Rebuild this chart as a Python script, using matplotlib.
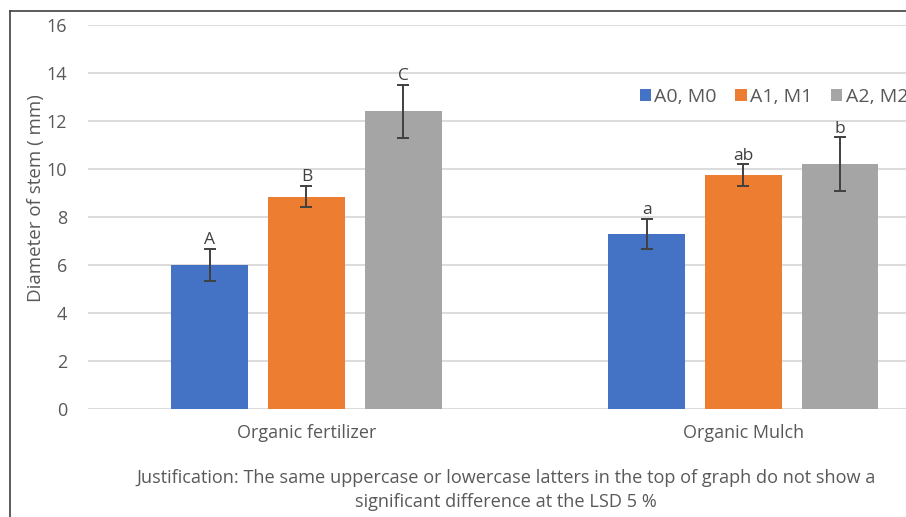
import numpy as np
import matplotlib.pyplot as plt
from matplotlib.lines import Line2D

plt.rcParams['font.family'] = ['Open Sans', 'DejaVu Sans']

# data
categories = ['Organic fertilizer', 'Organic Mulch']
series     = ['A0, M0', 'A1, M1', 'A2, M2']
means      = [[6.0, 7.3],      # A0, M0
              [8.85, 9.75],    # A1, M1
              [12.4, 10.2]]    # A2, M2
errors     = [[0.67, 0.63],
              [0.45, 0.45],
              [1.1, 1.12]]
letters    = [['A', 'a'],
              ['B', 'ab'],
              ['C', 'b']]
colors     = ['#4472C4', '#ED7D31', '#A5A5A5']

note = ('Justification: The same uppercase or lowercase latters in the top of graph do not show a\n'
        'significant difference at the LSD 5 %')

txt_col = '#595959'

fig = plt.figure(figsize=(9.06, 5.17), dpi=100)
ax  = fig.add_axes([88/906, 1-409/517, 1-88/906, (409-25)/517])

x     = np.arange(len(categories))
width = 0.176
step  = 0.221

for i in range(len(series)):
    pos = x + (i-1)*step
    ax.bar(pos, means[i], width, color=colors[i], label=series[i], zorder=3)
    ax.errorbar(pos, means[i], yerr=errors[i], fmt='none', ecolor='#404040',
                elinewidth=1.4, capsize=4, capthick=1.4, zorder=4)
    for j in range(len(categories)):
        ax.annotate(letters[i][j], (pos[j], means[i][j]+errors[i][j]),
                    xytext=(0, 0.5), textcoords='offset points',
                    ha='center', va='bottom', fontsize=12.5, color='#404040')

ax.set_xlim(-0.5, 1.372)
ax.set_ylim(0, 16)
ax.set_yticks(np.arange(0, 17, 2))
ax.set_xticks(x)
ax.set_xticklabels(categories)
ax.tick_params(length=0, labelsize=13, labelcolor=txt_col)
ax.tick_params(axis='x', pad=11)
ax.tick_params(axis='y', pad=15)
ax.grid(axis='y', color='#D9D9D9', linewidth=1.3, zorder=0)
for s in ax.spines.values():
    s.set_visible(False)
ax.set_ylabel('Diameter of stem ( mm)', fontsize=13.5, color=txt_col)
ax.yaxis.set_label_coords(-0.053, 0.55)

# the legend runs past the right edge, as in the original
ax.legend(loc='center left', bbox_to_anchor=(622/906, 1-97/517), bbox_transform=fig.transFigure,
          ncol=3, frameon=False, fontsize=14, handlelength=0.57, handleheight=0.57,
          handletextpad=0.2, columnspacing=0.95, labelcolor=txt_col)

fig.text(506/906, 1-490/517, note, ha='center', va='center', fontsize=13.1,
         color=txt_col, linespacing=1.45)

# outer border (cropped on the right and bottom)
fig.add_artist(Line2D([10/906, 10/906], [0, 1-11/517], color='#404040', lw=1.2,
                      transform=fig.transFigure))
fig.add_artist(Line2D([10/906, 1], [1-11/517, 1-11/517], color='#404040', lw=1.2,
                      transform=fig.transFigure))

plt.savefig('out.png', dpi=100)
